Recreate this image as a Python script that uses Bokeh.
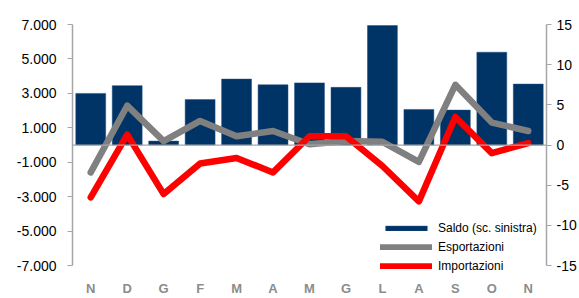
from bokeh.plotting import figure
from bokeh.models import Range1d, LinearAxis, FixedTicker, Span, Legend, LegendItem, ColumnDataSource
from bokeh.embed import file_html
from bokeh.resources import INLINE

# Data
months = ["N", "D", "G", "F", "M", "A", "M", "G", "L", "A", "S", "O", "N"]
saldo = [3000, 3450, 230, 2640, 3830, 3500, 3610, 3350, 6940, 2070, 2030, 5390, 3540]
esportazioni = [-3.4, 4.9, 0.5, 3.0, 1.1, 1.75, 0.1, 0.5, 0.4, -2.1, 7.5, 2.8, 1.75]
importazioni = [-6.5, 1.3, -6.1, -2.3, -1.6, -3.4, 1.1, 1.1, -2.6, -7.0, 3.5, -1.0, 0.25]
left_ticks = [-7000, -5000, -3000, -1000, 1000, 3000, 5000, 7000]
left_labels = ["-7.000", "-5.000", "-3.000", "-1.000", "1.000", "3.000", "5.000", "7.000"]
right_ticks = [-15, -10, -5, 0, 5, 10, 15]
right_labels = ["-15", "-10", "-5", "0", "5", "10", "15"]

xs = list(range(len(months)))
src = ColumnDataSource(dict(x=xs, saldo=saldo, exp=esportazioni, imp=importazioni))

FONT = "Liberation Sans"
AXC = "#a6a6a6"

# the frame extends a little below the lowest tick (axis lines are bounded)
EXTRA_PX = 12.0
AXIS_PX = 244.0
l_lo, l_hi = left_ticks[0], left_ticks[-1]
r_lo, r_hi = right_ticks[0], right_ticks[-1]
l_ext = EXTRA_PX * (l_hi - l_lo) / AXIS_PX
r_ext = EXTRA_PX * (r_hi - r_lo) / AXIS_PX

p = figure(width=579, height=298, output_backend="svg", toolbar_location=None,
           x_range=Range1d(-0.5, len(months) - 0.5), y_range=Range1d(l_lo - l_ext, l_hi),
           min_border_left=72, min_border_right=30, min_border_top=24, min_border_bottom=18,
           background_fill_color="white", border_fill_color="white")
p.outline_line_color = None
p.grid.visible = False
p.extra_y_ranges = {"right": Range1d(r_lo - r_ext, r_hi)}

# x axis (labels only)
xa = p.xaxis[0]
xa.ticker = FixedTicker(ticks=xs)
xa.major_label_overrides = {i: m for i, m in enumerate(months)}
xa.axis_line_color = None
xa.major_tick_line_color = None
xa.major_tick_in = 0
xa.major_tick_out = 0
xa.minor_tick_line_color = None
xa.minor_tick_in = 0
xa.minor_tick_out = 0
xa.axis_label_standoff = 0
xa.major_label_standoff = 3
xa.major_label_text_font = FONT
xa.major_label_text_font_style = "bold"
xa.major_label_text_font_size = "13px"
xa.major_label_text_color = "#8c8c8c"

# left axis
ly = p.yaxis[0]
ly.ticker = FixedTicker(ticks=left_ticks)
ly.bounds = (l_lo, l_hi)
ly.major_label_overrides = {t: l for t, l in zip(left_ticks, left_labels)}
ly.axis_line_color = AXC
ly.axis_line_width = 1.5
ly.major_tick_line_color = AXC
ly.major_tick_in = 0
ly.major_tick_out = 5
ly.minor_tick_line_color = None
ly.minor_tick_out = 0
ly.axis_label_standoff = 0
ly.major_label_standoff = 11
ly.major_label_text_font = FONT
ly.major_label_text_font_size = "14px"
ly.major_label_text_color = "black"

# right axis
ry = LinearAxis(y_range_name="right", ticker=FixedTicker(ticks=right_ticks))
ry.bounds = (r_lo, r_hi)
ry.major_label_overrides = {t: l for t, l in zip(right_ticks, right_labels)}
ry.axis_line_color = AXC
ry.axis_line_width = 1.5
ry.major_tick_line_color = AXC
ry.major_tick_in = 0
ry.major_tick_out = 5
ry.minor_tick_line_color = None
ry.minor_tick_out = 0
ry.axis_label_standoff = 0
ry.major_label_standoff = 5
ry.major_label_text_font = FONT
ry.major_label_text_font_size = "14px"
ry.major_label_text_color = "black"
p.add_layout(ry, "right")

bars = p.vbar(x="x", top="saldo", bottom=0, width=0.82, source=src,
              fill_color="#003366", line_color="#1f4f80", line_width=0.5)
zero = Span(location=0, dimension="width", line_color=AXC, line_width=1.2)
p.add_layout(zero)
gl = p.line(x="x", y="exp", source=src, y_range_name="right", line_color="#808080",
            line_width=6.5, line_join="round", line_cap="round")
rl = p.line(x="x", y="imp", source=src, y_range_name="right", line_color="#ff0000",
            line_width=6.5, line_join="round", line_cap="round")

legend = Legend(items=[LegendItem(label="Saldo (sc. sinistra)", renderers=[bars]),
                       LegendItem(label="Esportazioni", renderers=[gl]),
                       LegendItem(label="Importazioni", renderers=[rl])],
                location=(308, 2))
legend.glyph_width = 52
legend.glyph_height = 6
legend.label_height = 19
legend.spacing = 0
legend.padding = 0
legend.margin = 0
legend.label_standoff = 6
legend.border_line_color = None
legend.background_fill_alpha = 0
legend.label_text_font = FONT
legend.label_text_font_size = "12px"
legend.label_text_color = "black"
p.add_layout(legend, "center")

open("out.html", "w").write(file_html(p, INLINE))
